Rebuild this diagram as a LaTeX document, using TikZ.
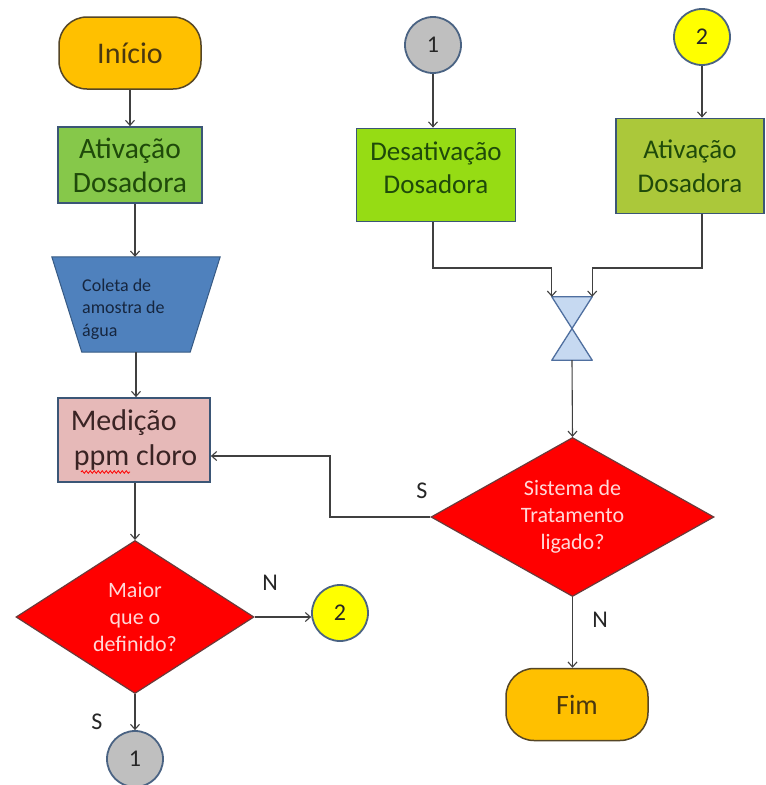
\documentclass[tikz,border=0pt]{standalone}
\usepackage{fontspec}
\setmainfont{Carlito}
\usetikzlibrary{shapes.geometric,arrows.meta,decorations.pathmorphing}
\definecolor{termfill}{HTML}{FFC000}
\definecolor{termtext}{HTML}{4A3810}
\definecolor{ativL}{HTML}{86C84A}
\definecolor{desatC}{HTML}{96DC14}
\definecolor{ativR}{HTML}{ABC83A}
\definecolor{greentext}{HTML}{1F4A0A}
\definecolor{boxborder}{HTML}{3B5676}
\definecolor{trapfill}{HTML}{4F81BD}
\definecolor{traptext}{HTML}{16263F}
\definecolor{medfill}{HTML}{E6B9B8}
\definecolor{medtext}{HTML}{3A2424}
\definecolor{diafill}{HTML}{FF0000}
\definecolor{diatext}{HTML}{FFD8D8}
\definecolor{diaborder}{HTML}{6A3A3A}
\definecolor{c1fill}{HTML}{BFBFBF}
\definecolor{c2fill}{HTML}{FFFF00}
\definecolor{circborder}{HTML}{4A6383}
\definecolor{hgfill}{HTML}{C6D9F1}
\definecolor{hgborder}{HTML}{4F6F9F}
\definecolor{linec}{HTML}{404040}
\begin{document}
\begin{tikzpicture}[x=1pt,y=-1pt,
  term/.style={draw=termtext!80!gray, line width=1.5pt, fill=termfill, rounded corners=28pt,
    minimum width=142pt, minimum height=72pt, text=termtext, font=\fontsize{29}{33}\selectfont, inner sep=0pt},
  proc/.style={draw=boxborder, line width=1.8pt, align=center, text=greentext,
    font=\fontsize{27}{34}\selectfont, inner sep=0pt},
  boxtext/.style={align=center, text=greentext, font=\fontsize{27}{33}\selectfont, inner sep=0pt},
  dia/.style={diamond, draw=diaborder, line width=1.2pt, fill=diafill, text=diatext, align=center,
    font=\fontsize{22}{27}\selectfont, inner sep=0pt},
  conn/.style={circle, draw=circborder, line width=1.8pt, minimum size=56pt, inner sep=0pt,
    font=\fontsize{24}{24}\selectfont, text=black!85},
  lbl/.style={font=\fontsize{24}{24}\selectfont, text=black!85, inner sep=0pt},
  arr/.style={draw=linec, line width=1.1pt, -{Straight Barb[length=5pt,width=9pt]}}]
\clip (0,0) rectangle (766,785);
\fill[white] (0,0) rectangle (766,785);

% left column
\node[term, font=\fontsize{30}{33}\selectfont] (ini) at (130,53) {Início};
\node[proc, fill=ativL, minimum width=144pt, minimum height=76pt, font=\fontsize{29.5}{34}\selectfont] (at1) at (130,165) {Ativação\\Dosadora};
\node[minimum width=168pt, minimum height=95pt, inner sep=0pt] (col) at (136,304.5) {};
\filldraw[fill=trapfill, draw=trapfill!70!black, line width=1pt]
  (col.north west) -- (col.north east) -- ([xshift=-30pt]col.south east) -- ([xshift=30pt]col.south west) -- cycle;
\node[anchor=west, align=left, text=traptext, font=\fontsize{18}{22.5}\selectfont, inner sep=0pt] (colt) at (82,309) {Coleta de\\amostra de\\água};
\node[proc, fill=medfill, text=medtext, minimum width=152pt, minimum height=84pt, align=left,
  font=\fontsize{30}{35}\selectfont] (med) at (134,440) {Medição\\\hspace*{3pt}ppm cloro};
\draw[red, line width=0.8pt, decorate, decoration={snake, amplitude=1.3pt, segment length=4pt}] (81,472) -- (130,472);
\node[dia, minimum width=238pt, minimum height=153pt, aspect=1.55] (d1) at (135,617) {Maior\\que o\\definido?};
\node[conn, fill=c2fill] (c2b) at (340,613) {2};
\node[conn, fill=c1fill] (c1b) at (135,759) {1};
\node[lbl] (n1) at (270,583) {N};
\node[lbl] (s1) at (97,722) {S};

% right part
\node[conn, fill=c1fill] (c1a) at (433,45) {1};
\node[conn, fill=c2fill] (c2a) at (702,37) {2};
\node[proc, fill=desatC, minimum width=159pt, minimum height=93pt] (des) at (436,175) {};
\node[boxtext] (dest) at (436,168) {Desativação\\Dosadora};
\node[proc, fill=ativR, minimum width=148pt, minimum height=95pt] (at2) at (690,166) {Ativação\\Dosadora};
\node[minimum width=40pt, minimum height=63pt, inner sep=0pt] (hg) at (572,328.5) {};
\filldraw[fill=hgfill, draw=hgborder, line width=1.3pt, line join=round]
  (hg.north west) -- (hg.north east) -- (hg.south west) -- (hg.south east) -- cycle;
\coordinate (mid) at (572,268);
\node[dia, minimum width=283pt, minimum height=159pt, aspect=1.78] (sd) at (572.5,517) {Sistema de\\Tratamento\\ligado?};
\node[term, font=\fontsize{28}{33}\selectfont] (fim) at (577,704.5) {Fim};
\coordinate (sbend) at (330,456);
\node[lbl] (s2) at (422,491) {S};
\node[lbl] (n2) at (600,620) {N};

% connectors
\draw[arr] (ini) -- (at1);
\draw[arr] ([xshift=5pt]at1.south) -- ([xshift=5pt]at1.south |- col.north);
\draw[arr] (col.south) -- (col.south |- med.north);
\draw[arr] (d1.north |- med.south) -- (d1.north);
\draw[arr] (d1.east) -- (d1.east -| c2b.west);
\draw[arr] (d1.south) -- (c1b.north);
\draw[arr] (c1a) -- (c1a |- des.north);
\draw[arr] (c2a) -- (c2a |- at2.north);
\draw[arr] (c1a |- des.south) -- (c1a |- mid) -| (hg.north west);
\draw[arr] (c2a |- at2.south) -- (c2a |- mid) -| (hg.north east);
\draw[arr] (hg.south) -- (sd.north);
\draw[arr] (sd.west) -| (sbend) -- (sbend -| med.east);
\draw[arr] (sd.south) -- (sd.south |- fim.north);
\end{tikzpicture}
\end{document}
